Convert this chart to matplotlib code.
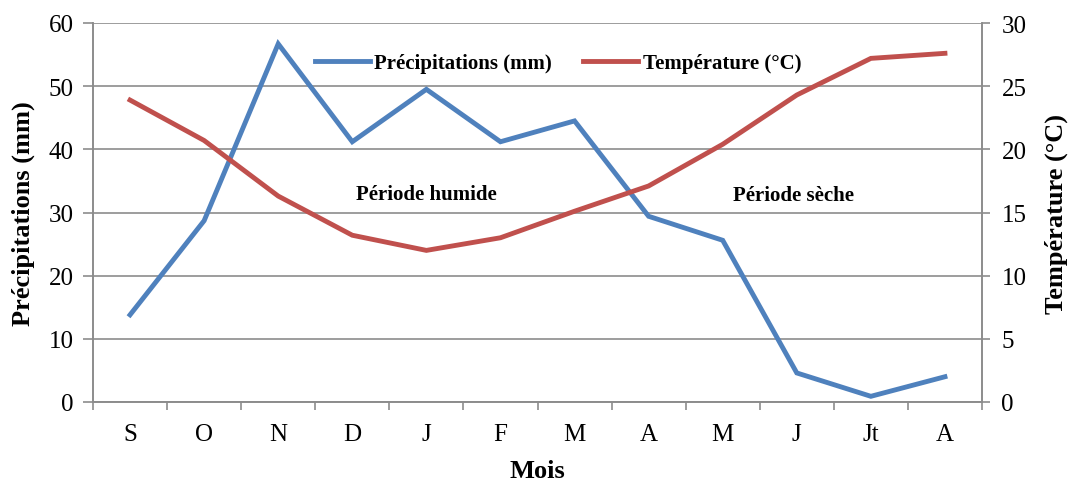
import matplotlib
matplotlib.use("Agg")
import matplotlib.pyplot as plt
import numpy as np

mois = ["S", "O", "N", "D", "J", "F", "M", "A", "M", "J", "Jt", "A"]
precipitations = [13.8, 28.7, 56.7, 41.2, 49.5, 41.2, 44.5, 29.4, 25.6, 4.6, 0.9, 4.0]
temperature = [23.9, 20.7, 16.3, 13.2, 12.0, 13.0, 15.1, 17.1, 20.4, 24.3, 27.2, 27.6]

plt.rcParams["font.family"] = ["Liberation Serif", "DejaVu Serif"]

BLUE = "#4F81BD"
RED = "#C0504D"
GREY = "#8C8C8C"

fig = plt.figure(figsize=(10.7, 4.81), dpi=100)
ax = fig.add_axes([93 / 1070, 1 - 403 / 481, 889 / 1070, 379 / 481])
ax2 = ax.twinx()

x = np.arange(len(mois))
l1, = ax.plot(x, precipitations, color=BLUE, lw=3.5, solid_joinstyle="miter",
              label="Précipitations (mm)", zorder=3)
l2, = ax2.plot(x, temperature, color=RED, lw=3.5, solid_joinstyle="miter",
               label="Température (°C)", zorder=3)

ax.set_xlim(-0.5, len(mois) - 0.5)
ax.set_ylim(0, 60)
ax2.set_ylim(0, 30)
ax.set_yticks(np.arange(0, 61, 10))
ax2.set_yticks(np.arange(0, 31, 5))
ax.grid(axis="y", color=GREY, lw=1.2)
ax.set_axisbelow(True)

ax.set_xticks(x)
ax.set_xticklabels(mois)
ax.set_xticks(np.arange(-0.5, len(mois)), minor=True)
ax.tick_params(axis="x", which="major", length=0, pad=15, labelsize=18)
ax.tick_params(axis="x", which="minor", length=6, color=GREY, width=1.2)
ax.tick_params(axis="y", length=7, color=GREY, width=1.2, labelsize=18, pad=7)
ax2.tick_params(axis="y", length=6, color=GREY, width=1.2, labelsize=18, pad=8)

for a in (ax, ax2):
    a.spines["top"].set_visible(False)
    for side in ("left", "right", "bottom"):
        a.spines[side].set_color(GREY)
        a.spines[side].set_linewidth(1.2)

ax.set_xlabel("Mois", fontsize=19, fontweight="bold", labelpad=10)
ax.set_ylabel("Précipitations (mm)", fontsize=19, fontweight="bold", labelpad=10)
ax2.set_ylabel("Température (°C)", fontsize=19, fontweight="bold", labelpad=13)

ax.text(4.0, 32.9, "Période humide", fontsize=15, fontweight="bold",
        ha="center", va="center")
ax.text(8.96, 32.8, "Période sèche", fontsize=15, fontweight="bold",
        ha="center", va="center")

leg = ax.legend([l1, l2], [l1.get_label(), l2.get_label()], loc="center",
                bbox_to_anchor=(0.523, 0.895), ncol=2, frameon=False,
                prop={"weight": "bold", "size": 15}, handlelength=2.65,
                handletextpad=0.2, columnspacing=1.5, borderpad=0)

fig.savefig("out.png", dpi=100)
